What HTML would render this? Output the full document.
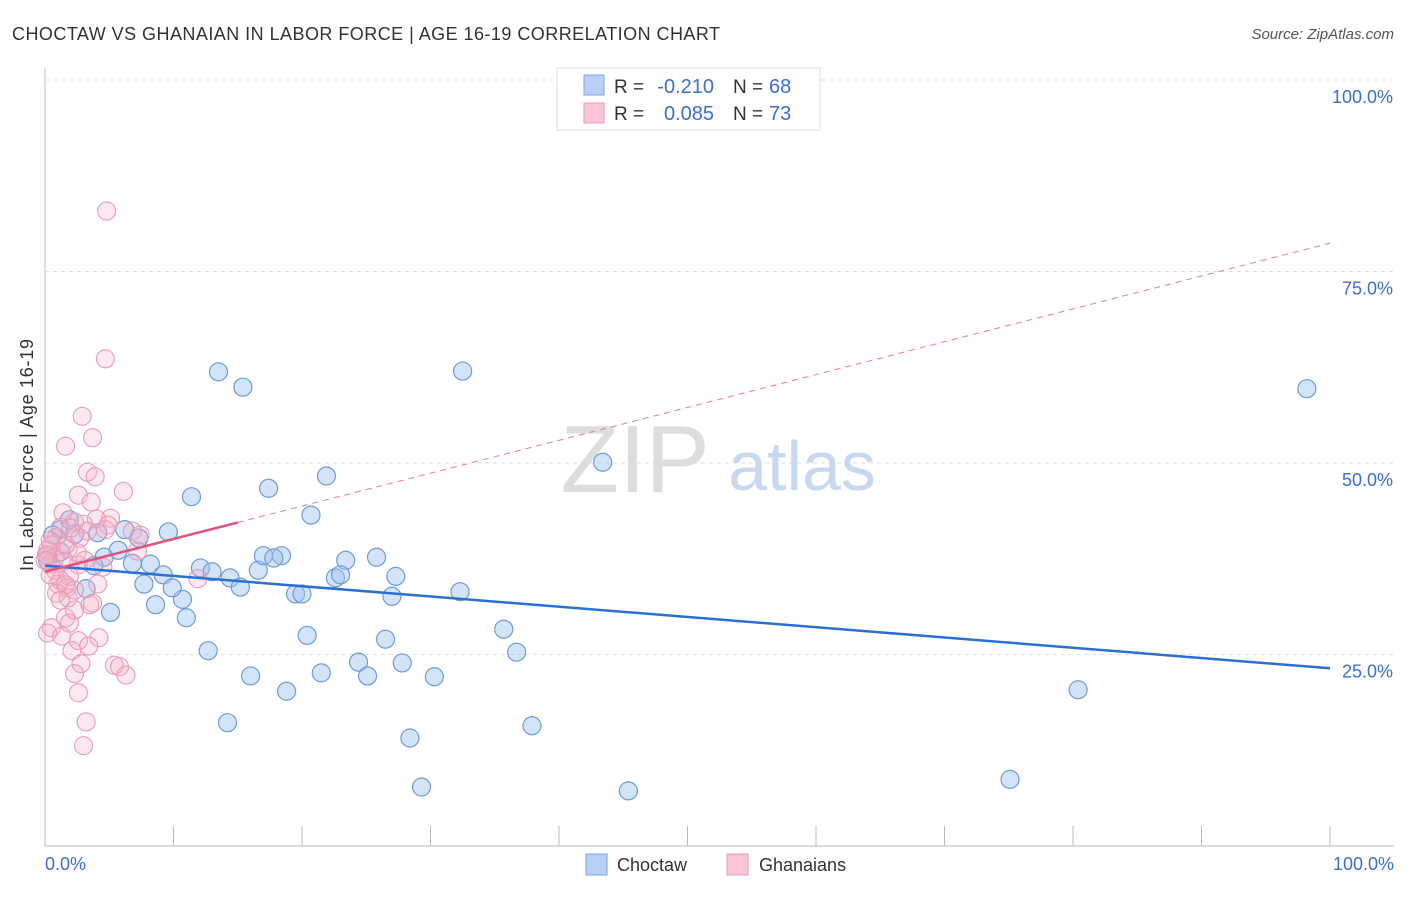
<!DOCTYPE html>
<html><head><meta charset="utf-8"><style>
body{margin:0;background:#fff;font-family:"Liberation Sans",sans-serif;}
svg text{font-family:"Liberation Sans",sans-serif;}
</style></head><body>
<svg width="1406" height="892" xmlns="http://www.w3.org/2000/svg">
<text x="12" y="40" font-size="18" fill="#333" textLength="708">CHOCTAW VS GHANAIAN IN LABOR FORCE | AGE 16-19 CORRELATION CHART</text>
<text x="1394" y="39" font-size="15" fill="#555" font-style="italic" text-anchor="end">Source: ZipAtlas.com</text>
<g id="grid"></g>
<text x="635" y="492" font-size="96" fill="#ddd" font-family="Liberation Serif" text-anchor="middle">ZIP</text>
<text x="802" y="490" font-size="70" fill="#c8d8f0" text-anchor="middle">atlas</text>
<g id="pts"></g>
<g id="lines"></g>
<text x="33" y="455" font-size="18" fill="#333" transform="rotate(-90 33 455)" text-anchor="middle" textLength="232">In Labor Force | Age 16-19</text>
<text x="45" y="870" font-size="18" fill="#3a6fd8">0.0%</text>
<text x="1394" y="870" font-size="18" fill="#3a6fd8" text-anchor="end">100.0%</text>
<g>
<rect x="557" y="68" width="263" height="62" fill="#fff" stroke="#ddd"/>
<rect x="584" y="75" width="20" height="20" fill="#b8d0f5" stroke="#7aa3e8"/>
<rect x="584" y="103" width="20" height="20" fill="#f8c6d4" stroke="#ee9ab2"/>
<text x="614" y="93" font-size="19" fill="#333">R =</text>
<text x="714" y="93" font-size="20" fill="#3a6fd8" text-anchor="end">-0.210</text>
<text x="733" y="93" font-size="19" fill="#333">N =</text>
<text x="769" y="93" font-size="20" fill="#3a6fd8">68</text>
<text x="614" y="120" font-size="19" fill="#333">R =</text>
<text x="714" y="120" font-size="20" fill="#3a6fd8" text-anchor="end">0.085</text>
<text x="733" y="120" font-size="19" fill="#333">N =</text>
<text x="769" y="120" font-size="20" fill="#3a6fd8">73</text>
</g>
<g>
<rect x="586" y="854" width="21" height="21" fill="#b8d0f5" stroke="#7aa3e8"/>
<text x="617" y="871" font-size="18" fill="#333">Choctaw</text>
<rect x="727" y="854" width="21" height="21" fill="#f8c6d4" stroke="#ee9ab2"/>
<text x="759" y="871" font-size="18" fill="#333">Ghanaians</text>
</g>
</svg>
<script>
const bluePx=[[218,372],[243,387],[463,371],[1307,389],[603,462],[192,497],[326,476],[268,488],[311,515],[169,532],[139,538],[98,533],[125,530],[61,530],[74,534],[118,550],[104,557],[132,563],[150,564],[163,575],[200,568],[212,572],[230,578],[240,587],[258,570],[264,556],[281,556],[274,558],[346,560],[376,557],[336,578],[341,575],[396,576],[295,594],[302,594],[392,596],[460,592],[183,599],[156,605],[144,584],[172,588],[186,618],[111,612],[86,589],[94,566],[307,635],[386,639],[504,629],[516,652],[208,651],[358,662],[402,663],[251,676],[321,673],[367,676],[434,677],[286,691],[227,723],[532,726],[410,738],[421,787],[629,791],[1010,779],[1078,690],[53,535],[60,552],[70,520],[48,560]];
const pinkPx=[[107,211],[105,359],[82,416],[92,438],[66,446],[87,472],[95,477],[124,491],[79,495],[91,502],[63,513],[75,522],[110,518],[97,519],[108,525],[133,531],[87,531],[80,538],[57,537],[52,545],[68,549],[77,553],[138,551],[55,557],[64,561],[48,556],[50,564],[78,565],[103,567],[70,576],[61,580],[58,584],[67,588],[98,584],[74,590],[198,579],[56,593],[68,598],[90,605],[92,603],[66,618],[70,623],[52,628],[47,633],[62,636],[78,641],[99,638],[89,646],[72,651],[115,665],[120,667],[126,675],[81,664],[75,674],[79,693],[86,722],[84,746],[48,550],[50,540],[46,555],[60,527],[71,528],[84,524],[140,535],[105,530],[45,560],[55,570],[65,585],[60,600],[75,610],[50,575],[65,545],[85,560]];
const choctawX=bluePx.map(p=>+((p[0]-45)/12.85).toFixed(1));
const choctawY=bluePx.map(p=>+((846-p[1])/7.66).toFixed(1));
const ghanaX=pinkPx.map(p=>+((p[0]-45)/12.85).toFixed(1));
const ghanaY=pinkPx.map(p=>+((846-p[1])/7.66).toFixed(1));
const yTicks=[25,50,75,100];
const yTickLabels=["25.0%","50.0%","75.0%","100.0%"];
const blueTrend=[36.6,23.2];
const pinkTrend=[35.8,78.7];
const NS="http://www.w3.org/2000/svg";
const X=v=>45+v*12.85, Y=v=>846-v*7.66;
function mk(t,a,parent){const e=document.createElementNS(NS,t);for(const k in a)e.setAttribute(k,a[k]);parent.appendChild(e);return e;}
const grid=document.getElementById('grid');
let ax=mk('line',{x1:45,y1:68,x2:45,y2:846,stroke:'#bbb'},grid);


let bx=mk('line',{x1:45,y1:846,x2:1394,y2:846,stroke:'#bbb'},grid);


for(let i=0;i<=10;i++){let t=mk('line',{x1:X(i*10),y1:846,x2:X(i*10),y2:826,stroke:'#bbb'},grid);

}
yTicks.forEach((v,i)=>{let g=mk('line',{x1:45,y1:Y(v),x2:1394,y2:Y(v),stroke:'#ddd','stroke-dasharray':'4,4'},grid);


let t=mk('text',{x:1393,y:Y(v)+23,'font-size':18,fill:'#3a6fd8','text-anchor':'end'},grid);t.textContent=yTickLabels[i];

});
const pts=document.getElementById('pts');
choctawX.forEach((x,i)=>{let c=mk('circle',{cx:X(x),cy:Y(choctawY[i]),r:9,fill:'rgba(160,195,240,0.45)',stroke:'#6b9be0','stroke-width':1.2},pts);

});
ghanaX.forEach((x,i)=>{let c=mk('circle',{cx:X(x),cy:Y(ghanaY[i]),r:9,fill:'rgba(245,175,198,0.28)',stroke:'#eb9ab5','stroke-width':1.1},pts);

});
const lines=document.getElementById('lines');
let bl=mk('line',{x1:X(0),y1:Y(blueTrend[0]),x2:X(100),y2:Y(blueTrend[1]),stroke:'#2a6fd6','stroke-width':2.5},lines);


const pAt=v=>pinkTrend[0]+(pinkTrend[1]-pinkTrend[0])*v/100;
let pd=mk('line',{x1:X(15),y1:Y(pAt(15)),x2:X(100),y2:Y(pAt(100)),stroke:'#e77a9a','stroke-width':1,'stroke-dasharray':'6,5'},lines);


let ps=mk('line',{x1:X(0),y1:Y(pAt(0)),x2:X(15),y2:Y(pAt(15)),stroke:'#e0557e','stroke-width':2.5},lines);


</script>
</body></html>
